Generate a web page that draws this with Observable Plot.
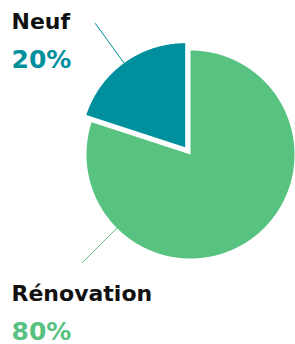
<!DOCTYPE html>
<html><head><meta charset="utf-8">
<script src="https://cdn.jsdelivr.net/npm/d3@7"></script>
<script src="https://cdn.jsdelivr.net/npm/@observablehq/plot@0.6"></script>
<style>body{margin:0;background:#fff}</style>
</head><body><div id="chart"></div>
<script>
// Data
const categories = ["Rénovation", "Neuf"];
const values = [80, 20];
const valueLabels = ["80%", "20%"];

// Styles / layout
const colors = ["#58C281", "#008F9D"];
const W = 295, H = 344, cx = 190, cy = 154, R = 104;
const explode = {"Rénovation": 0, "Neuf": 9 / R};
const leaderAngle = {"Rénovation": 225 * Math.PI / 180, "Neuf": null}; // null -> slice mid-angle
const leaderR = [1.0, 1.47];
const nameBaseline = {"Rénovation": 300, "Neuf": 28};
const valueBaseline = {"Rénovation": 339, "Neuf": 67};

const arcs = d3.pie().sort(null)(values);
const slices = categories.map((c, i) => {
  const s = arcs[i].startAngle, e = arcs[i].endAngle, mid = (s + e) / 2, ex = explode[c];
  return {cat: c, value: values[i], label: valueLabels[i], start: s, end: e, mid,
          ox: ex * Math.sin(mid), oy: ex * Math.cos(mid)};
});

const pts = [];
for (const s of slices) {
  pts.push({cat: s.cat, x: s.ox, y: s.oy});
  const n = Math.ceil((s.end - s.start) / (Math.PI / 360));
  for (let k = 0; k <= n; k++) {
    const a = s.start + (s.end - s.start) * k / n;
    pts.push({cat: s.cat, x: s.ox + Math.sin(a), y: s.oy + Math.cos(a)});
  }
  pts.push({cat: s.cat, x: s.ox, y: s.oy});
}

const leaders = [];
for (const s of slices) {
  const a = leaderAngle[s.cat] ?? s.mid;
  for (const r of leaderR) leaders.push({cat: s.cat, x: s.ox + r * Math.sin(a), y: s.oy + r * Math.cos(a)});
}

const textMarks = slices.flatMap(s => [
  Plot.text([s], {text: "cat", frameAnchor: "top-left", dx: 11, dy: nameBaseline[s.cat], textAnchor: "start",
    lineAnchor: "bottom", fill: "#111", fontSize: 22, fontWeight: 700}),
  Plot.text([s], {text: "label", frameAnchor: "top-left", dx: 11, dy: valueBaseline[s.cat], textAnchor: "start",
    lineAnchor: "bottom", fill: colors[categories.indexOf(s.cat)], fontSize: 25, fontWeight: 700})
]);

const chart = Plot.plot({
  width: W, height: H, margin: 0,
  style: {fontFamily: "'DejaVu Sans', sans-serif", background: "#fff"},
  x: {domain: [-cx / R, (W - cx) / R], range: [0, W], axis: null},
  y: {domain: [(cy - H) / R, cy / R], range: [H, 0], axis: null},
  color: {domain: categories, range: colors},
  marks: [
    Plot.line(pts, {x: "x", y: "y", z: "cat", fill: "cat", stroke: null}),
    Plot.line(leaders, {x: "x", y: "y", z: "cat", stroke: "cat", strokeWidth: 1}),
    ...textMarks
  ]
});
document.getElementById("chart").append(chart);
</script></body></html>
